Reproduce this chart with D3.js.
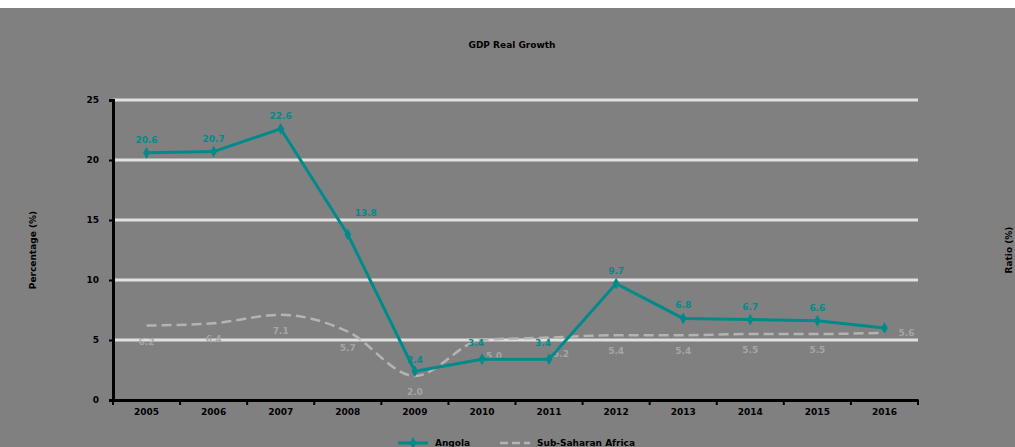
<!DOCTYPE html>
<html>
<head>
<meta charset="utf-8">
<script src="https://cdn.jsdelivr.net/npm/d3@7"></script>
<style>
  body { margin: 0; background: #fff; }
  text { font-family: "DejaVu Sans", Arial, sans-serif; font-weight: bold; }
</style>
</head>
<body>
<div id="chart-area"></div>
<script>

// SVG Size
var width = 1015,
    height = 447;

// Data
var years = ["2005", "2006", "2007", "2008", "2009", "2010", "2011", "2012", "2013", "2014", "2015", "2016"];
var angola = [20.6, 20.7, 22.6, 13.8, 2.4, 3.4, 3.4, 9.7, 6.8, 6.7, 6.6, 6.0];
var ssa = [6.2, 6.4, 7.1, 5.7, 2.0, 5.0, 5.2, 5.4, 5.4, 5.5, 5.5, 5.6];
var yTicks = [0, 5, 10, 15, 20, 25];

var svg = d3.select("#chart-area").append("svg")
    .attr("width", width)
    .attr("height", height);

// Background
svg.append("rect")
    .attr("x", 0).attr("y", 8)
    .attr("width", width).attr("height", height - 8)
    .attr("fill", "#808080");

var plot = { left: 113, right: 918, top: 100, bottom: 400 };

// Scales
var x = d3.scaleBand()
    .domain(years)
    .range([plot.left, plot.right]);

var y = d3.scaleLinear()
    .domain([0, 25])
    .range([plot.bottom, plot.top]);

// Gridlines
svg.selectAll(".grid")
    .data(yTicks.filter(function(d){ return d > 0; }))
    .enter()
    .append("line")
    .attr("class", "grid")
    .attr("x1", plot.left)
    .attr("x2", plot.right)
    .attr("y1", function(d){ return y(d); })
    .attr("y2", function(d){ return y(d); })
    .attr("stroke", "#e0e0e0")
    .attr("stroke-width", 3);

// Axes
var yAxis = d3.axisLeft(y)
    .tickValues(yTicks)
    .tickSize(4)
    .tickFormat(d3.format("d"));

var gy = svg.append("g")
    .attr("transform", "translate(" + plot.left + ",0)")
    .call(yAxis);
gy.select(".domain").attr("stroke", "#000").attr("stroke-width", 3);
gy.selectAll(".tick line").attr("stroke", "#000").attr("stroke-width", 2);
gy.selectAll(".tick text")
    .attr("fill", "#000")
    .attr("x", -14)
    .style("font-size", "9px");

var xAxis = d3.axisBottom(x).tickSize(0).tickPadding(9);
var gx = svg.append("g")
    .attr("transform", "translate(0," + plot.bottom + ")")
    .call(xAxis);
gx.select(".domain").attr("stroke", "#000").attr("stroke-width", 3);
gx.selectAll(".tick text")
    .attr("fill", "#000")
    .style("font-size", "9px");

// Category boundary ticks
svg.selectAll(".xtick")
    .data(years.concat(["end"]))
    .enter()
    .append("line")
    .attr("x1", function(d, i){ return plot.left + i * x.step(); })
    .attr("x2", function(d, i){ return plot.left + i * x.step(); })
    .attr("y1", plot.bottom)
    .attr("y2", plot.bottom + 5)
    .attr("stroke", "#000")
    .attr("stroke-width", 2);

var cx = function(d, i){ return x(years[i]) + x.bandwidth() / 2; };

// Lines
var line = d3.line()
    .x(function(d, i){ return cx(d, i); })
    .y(function(d){ return y(d); });

var ssaLine = d3.line()
    .x(function(d, i){ return cx(d, i); })
    .y(function(d){ return y(d); })
    .curve(d3.curveMonotoneX);

// Sub-Saharan Africa (dashed, smoothed)
svg.append("path")
    .datum(ssa)
    .attr("d", ssaLine)
    .attr("fill", "none")
    .attr("stroke", "#b4b4b4")
    .attr("stroke-width", 2.5)
    .attr("stroke-dasharray", "10,5");

svg.selectAll(".ssa-label")
    .data(ssa)
    .enter()
    .append("text")
    .attr("x", function(d, i){ return cx(d, i) + (i === 11 ? 22 : (i === 5 || i === 6 ? 12 : 0)); })
    .attr("y", function(d, i){ return i === 11 ? y(d) + 3 : y(d) + 19; })
    .attr("text-anchor", "middle")
    .attr("fill", "#a6a6a6")
    .style("font-size", "9px")
    .text(function(d){ return d3.format(".1f")(d); });

// Angola
svg.append("path")
    .datum(angola)
    .attr("d", line)
    .attr("fill", "none")
    .attr("stroke", "#008b8b")
    .attr("stroke-width", 3);

svg.selectAll(".ang-pt")
    .data(angola)
    .enter()
    .append("path")
    .attr("d", d3.symbol().type(d3.symbolDiamond).size(40))
    .attr("transform", function(d, i){ return "translate(" + cx(d, i) + "," + y(d) + ")"; })
    .attr("fill", "#008b8b");

svg.selectAll(".ang-label")
    .data(angola.slice(0, 11))
    .enter()
    .append("text")
    .attr("x", function(d, i){ return cx(d, i) + (i === 3 ? 18 : (i === 5 || i === 6 ? -6 : 0)); })
    .attr("y", function(d, i){
      if (i === 3) return y(d) - 18;
      if (i === 4) return y(d) - 8;
      if (i === 5 || i === 6) return y(d) - 13;
      return y(d) - 10;
    })
    .attr("text-anchor", "middle")
    .attr("fill", "#008b8b")
    .style("font-size", "9px")
    .text(function(d){ return d3.format(".1f")(d); });

// Title
svg.append("text")
    .attr("x", 512)
    .attr("y", 48)
    .attr("text-anchor", "middle")
    .attr("fill", "#000")
    .style("font-size", "9px")
    .text("GDP Real Growth");

// Axis titles
svg.append("text")
    .attr("transform", "translate(36,250) rotate(-90)")
    .attr("text-anchor", "middle")
    .attr("fill", "#000")
    .style("font-size", "9px")
    .text("Percentage (%)");

svg.append("text")
    .attr("transform", "translate(1012,250) rotate(-90)")
    .attr("text-anchor", "middle")
    .attr("fill", "#000")
    .style("font-size", "9px")
    .text("Ratio (%)");

// Legend
var legend = svg.append("g").attr("transform", "translate(0,443)");
legend.append("line")
    .attr("x1", 398).attr("x2", 428).attr("y1", 0).attr("y2", 0)
    .attr("stroke", "#008b8b").attr("stroke-width", 3);
legend.append("path")
    .attr("d", d3.symbol().type(d3.symbolDiamond).size(40))
    .attr("transform", "translate(413,0)")
    .attr("fill", "#008b8b");
legend.append("text")
    .attr("x", 435).attr("y", 3)
    .attr("fill", "#000")
    .style("font-size", "9px")
    .text("Angola");
legend.append("line")
    .attr("x1", 500).attr("x2", 530).attr("y1", 0).attr("y2", 0)
    .attr("stroke", "#b4b4b4").attr("stroke-width", 2.5)
    .attr("stroke-dasharray", "8,4");
legend.append("text")
    .attr("x", 537).attr("y", 3)
    .attr("fill", "#000")
    .style("font-size", "9px")
    .text("Sub-Saharan Africa");

</script>
</body>
</html>
